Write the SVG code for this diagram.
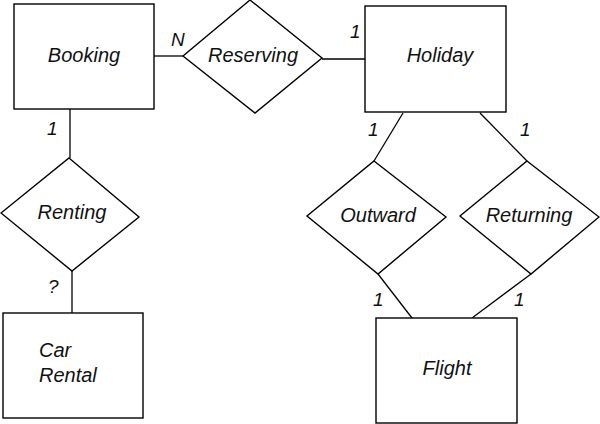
<svg xmlns="http://www.w3.org/2000/svg" width="600" height="424" viewBox="0 0 600 424">
<style>
.box{fill:#fff;stroke:#000;stroke-width:1.4}
.rel{fill:#fff;stroke:#000;stroke-width:1.4}
.ln{fill:none;stroke:#000;stroke-width:1.3}
text{font-family:"Liberation Sans",Arial,sans-serif;font-style:italic;font-size:20px;fill:#111}
.lbl{text-anchor:middle}
.card{font-size:19px}
</style>
<rect width="600" height="424" fill="#fff"/>
<g id="connectors">
<line class="ln" x1="154" y1="56" x2="183" y2="56"/>
<line class="ln" x1="322" y1="59" x2="365" y2="59"/>
<line class="ln" x1="70" y1="109" x2="70" y2="158"/>
<line class="ln" x1="72" y1="271" x2="72" y2="313"/>
<line class="ln" x1="403" y1="113" x2="374" y2="161"/>
<line class="ln" x1="378" y1="274" x2="412" y2="318"/>
<line class="ln" x1="480" y1="113" x2="527" y2="161"/>
<line class="ln" x1="531" y1="274" x2="472" y2="318"/>
<text class="card" x="171" y="46">N</text>
<text class="card" x="350" y="38">1</text>
<text class="card" x="47" y="135">1</text>
<text class="card" x="48" y="293">?</text>
<text class="card" x="368" y="136">1</text>
<text class="card" x="520" y="136">1</text>
<text class="card" x="373" y="306">1</text>
<text class="card" x="514" y="306">1</text>
</g>
<g id="booking">
<rect class="box" x="14" y="4" width="140" height="105"/>
<text class="lbl" x="84" y="62">Booking</text>
</g>
<g id="reserving">
<polygon class="rel" points="250,0 322,58 255,113 183,56"/>
<text class="lbl" x="253" y="62">Reserving</text>
</g>
<g id="holiday">
<rect class="box" x="365" y="6" width="141" height="106"/>
<text class="lbl" x="440" y="62">Holiday</text>
</g>
<g id="renting">
<polygon class="rel" points="69,158 139,217 72,271 1,213"/>
<text class="lbl" x="72" y="219">Renting</text>
</g>
<g id="carrental">
<rect class="box" x="3" y="313" width="140" height="105"/>
<text x="39" y="357">Car</text>
<text x="39" y="382">Rental</text>
</g>
<g id="outward">
<polygon class="rel" points="374,161 446,217 378,274 307,216"/>
<text class="lbl" x="378" y="222">Outward</text>
</g>
<g id="returning">
<polygon class="rel" points="527,161 599,217 531,274 460,216"/>
<text class="lbl" x="529" y="222">Returning</text>
</g>
<g id="flight">
<rect class="box" x="376" y="318" width="141" height="105"/>
<text class="lbl" x="447" y="375">Flight</text>
</g>
</svg>
